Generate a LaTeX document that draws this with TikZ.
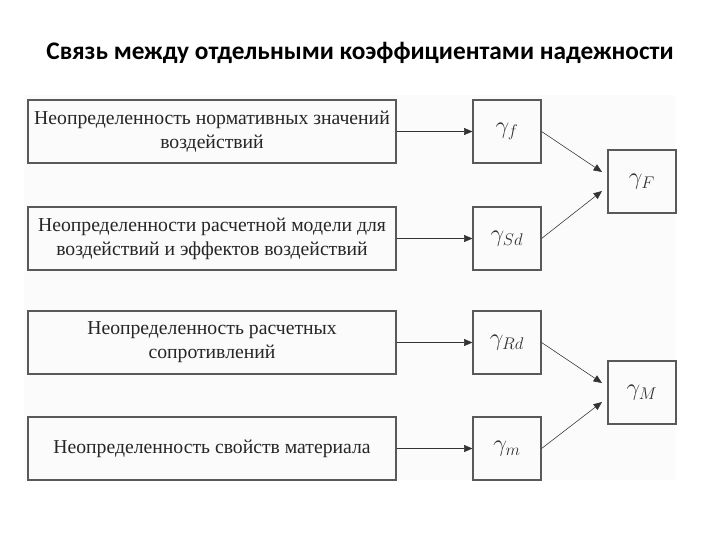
\documentclass[tikz,border=0pt]{standalone}
\usepackage{fontspec}
\setmainfont{Liberation Serif}
\newfontfamily\titlefont{Carlito}
\usetikzlibrary{arrows.meta}

\begin{document}
\begin{tikzpicture}[x=0.025cm,y=-0.025cm,
    cause/.style={draw=black!65, thick, minimum width=9.2cm, minimum height=1.575cm,
        inner sep=0pt, align=center, text=black!85, font=\fontsize{14}{17}\selectfont},
    coef/.style={draw=black!65, thick, minimum width=1.7cm, minimum height=1.575cm,
        inner sep=0pt, text=black!80, font=\fontsize{17}{19}\selectfont},
    link/.style={thin, black!80, -{Triangle[length=6pt,width=5pt]}}]
    \useasboundingbox (0,0) rectangle (720,540);
    \fill[black!1.5] (24,95) rectangle (675,480);

    \node[font=\titlefont\bfseries\fontsize{18}{20}\selectfont] (title) at (360,53)
        {Связь между отдельными коэффициентами надежности};

    % causes
    \node[cause] (actval) at (212,131.5) {Неопределенность нормативных значений\\воздействий};
    \node[cause] (actmod) at (212,238.5) {Неопределенности расчетной модели для\\воздействий и эффектов воздействий};
    \node[cause] (resval) at (212,342.5) {Неопределенность расчетных\\сопротивлений};
    \node[cause] (matval) at (212,448.5) {Неопределенность свойств материала};

    % partial factors
    \node[coef] (gf)  at (507,131.5) {$\gamma_{f}$};
    \node[coef] (gSd) at (507,238.5) {$\gamma_{Sd}$};
    \node[coef] (gRd) at (507,342.5) {$\gamma_{Rd}$};
    \node[coef] (gm)  at (507,448.5) {$\gamma_{m}$};
    \node[coef] (gF)  at (642,181.5) {$\gamma_{F}$};
    \node[coef] (gM)  at (642,392.5) {$\gamma_{M}$};

    \coordinate (gFa) at (602,172);
    \coordinate (gFb) at (602,191);
    \coordinate (gMa) at (602,383);
    \coordinate (gMb) at (602,402);

    \draw[link] (actval) -- (gf);
    \draw[link] (actmod) -- (gSd);
    \draw[link] (resval) -- (gRd);
    \draw[link] (matval) -- (gm);
    \draw[link] (gf.east) -- (gFa);
    \draw[link] (gSd.east) -- (gFb);
    \draw[link] (gRd.east) -- (gMa);
    \draw[link] (gm.east) -- (gMb);
\end{tikzpicture}
\end{document}
